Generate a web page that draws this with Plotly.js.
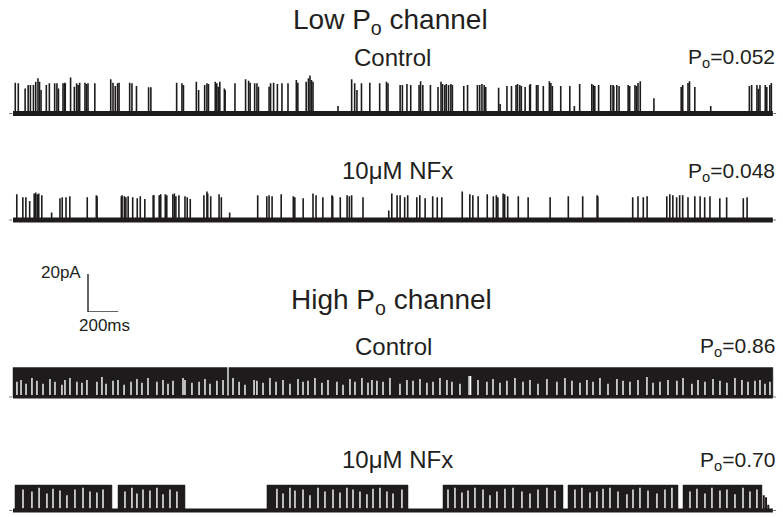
<!DOCTYPE html>
<html><head><meta charset="utf-8">
<script src="https://cdn.plot.ly/plotly-3.0.1.min.js"></script>
<style>html,body{margin:0;padding:0;background:#fff}#chart{width:783px;height:517px}</style>
</head><body><div id="chart"></div>
<script>
// ---------------- DATA (times in ms, currents in pA) ----------------
const traceDurationMs = 5015;

// Low Po channel, control: opening times and amplitudes
const lowCtrlOpenT = [15,35,80,100,115,135,150,165,175,185,220,240,275,290,300,330,340,345,380,405,420,430,440,475,485,495,540,645,660,675,690,700,770,785,815,895,910,1080,1115,1125,1210,1225,1265,1280,1290,1335,1345,1355,1365,1395,1400,1465,1535,1555,1565,1595,1610,1620,1690,1700,1720,1745,1775,1815,1870,1880,1935,1950,1960,1970,1980,2145,2235,2255,2270,2300,2355,2420,2465,2475,
2555,2570,2600,2625,2680,2690,2705,2755,2805,2825,2835,2850,2860,2875,2890,2900,2975,3000,3065,3080,3095,3110,3120,3205,3215,3260,3290,3320,3330,3345,3355,3380,3410,3415,3455,3465,3500,3540,3550,3560,3615,3675,3705,3740,3820,3830,3840,3865,3945,3960,3965,3985,4000,4060,4070,4105,4115,4125,4140,4230,4410,4420,4455,4465,4500,4605,4860,4875,4910,4920,4930,4965,4975,4995,5005];
const lowCtrlOpenA = [16.2,15.9,13.2,15,15,15,16.7,18.5,16.7,12.4,15,15.9,15.9,15.9,13.2,15.9,16.2,15.9,19,14.1,15.9,15,16.2,16.2,15.5,15.9,15.9,18,16.2,14.5,15.9,16.2,16.2,15.9,14.5,13.8,13.8,16.2,15.9,15,16.7,12.4,15,15.9,15.5,16.7,15.9,14.1,16.7,13.2,12.4,15.9,18,17.3,16.2,15.9,15.9,14.1,14.1,15.9,16.2,15.5,15.9,15.9,17.6,16.2,16.7,18.5,20.3,17.6,16.7,4,18,15.9,12.4,15.9,16.2,15.9,16.7,15.9,
15,15,15.5,15,15,17,15,15,14,16.7,15.5,15,15.5,15,15.5,15,14.5,15,15,15,15.5,15,14,13.5,5,14.5,14.5,15,15.5,15,14.5,14,15,15.5,15,15,14.5,17,16,14.5,14.5,14.5,4,15.5,15.5,15,14.5,15,15,15,14.5,15,14.5,15,14.5,15,14.5,16,17,8,14,15,16,17,14,4,14.5,15,15,13,15,15,14,15,16];

// Low Po channel, 10 uM NFx
const lowNfxOpenT = [25,65,85,110,140,150,160,170,190,255,310,325,350,375,490,550,555,715,720,735,745,760,790,820,840,870,925,930,965,975,1005,1015,1055,1065,1075,1095,1135,1150,1170,1260,1280,1285,1305,1360,1375,1430,1615,1675,1690,1710,1770,1850,1860,1915,1980,2000,2045,2105,2110,2160,2205,2220,2235,2310,2480,2500,2535,2555,2585,2605,2665,2685,2720,2770,2800,2830,2965,3015,3035,3070,3130,3170,3190,3200,3235,3245,3265,3335,3400,3545,3665,3760,3855,3860,4090,4125,4160,4185,4315,4335,4355,4380,4400,4420,4455,4500,4535,4565,4600,4665,4710,4820,4845];
const lowNfxOpenA = [13.5,12,12,10,14,14.5,13.5,14,13,4,11.5,12,12,12.5,12,13,12.5,12.5,13,12.5,12,12.5,12,11.5,12.5,11,13,13,13,13.5,13.5,13,13.5,14,12.5,13,12.5,12,11,13,15,14,12.5,13.5,12,4,13,12.5,13,12.5,13.5,12.5,12,11.5,14,13,12,13,12.5,12,13,12.5,13,12,5,14,13,13,12,13,12,13,11.5,12.5,12,12,15,13.5,13,12.5,13.5,12.5,13,12,14,13.5,12.5,12.5,12,12,12.5,12.5,13,12.5,12,12.5,12,12.5,12.5,13.5,13,12,13,13,12,12.5,12.5,12,12.5,11.5,12,11.5,12];

// High Po channel, control: flicker bursts, open level, visible dwells (time, height reached)
const highCtrlBursts = [[0, 5015]];
const highCtrlOpenLevel = 15.5;
const highCtrlDwellT = [26,53,86,125,158,198,244,277,323,343,
376,422,455,488,554,587,614,660,693,733,
779,818,851,891,950,990,1023,1056,1122,1135,
1181,1228,1267,1300,1346,1386,1452,1492,1531,1591,
1610,1650,1696,1736,1782,1828,1881,1914,1947,1993,
2039,2079,2138,2178,2224,2257,2303,2343,2369,2402,
2442,2488,2554,2600,2640,2686,2732,2772,2818,2864,
2897,2950,3010,3020,3069,3128,3168,3214,3260,3313,
3366,3412,3465,3524,3590,3643,3689,3742,3788,3828,
3874,3927,3986,4026,4072,4125,4184,4224,4270,4323,
4382,4422,4481,4521,4567,4620,4666,4712,4765,4811,
4851,4897,4930,4963,4996];
const highCtrlDwellH = [8,9,7,10,8.5,7,9.5,8,6.5,9,
10,8,7.5,9,8,10.5,7,8.5,9,6.5,
8,9.5,7.5,10,8,9,7,8.5,10,9,
7.5,8,9.5,7,8.5,9,10,8,6.5,9,
8.5,7.5,10,8,9,7,9.5,8,8.5,10,
7.5,9,8,6.5,9.5,8,10,7.5,9,8.5,
8,10,7,9,8.5,9.5,7.5,8,10,9,
8,7,11,11,9,8,9.5,7.5,8.5,10,
8,9,7,9.5,8,10,8.5,7.5,9,8,
10,7,9.5,8.5,8,9,10.5,7.5,8,9,
8.5,10,7,9,8,9.5,8.5,7.5,10,9,
8,8.5,9,7,8];
const highCtrlBreakT = [1419];

// High Po channel, 10 uM NFx
const highNfxBursts = [[13,653],[693,1135],[1676,2607],[2838,3630],[3663,4389],[4422,4943]];
const highNfxOpenLevel = 13.4;
const highNfxDwellT = [66,125,172,224,264,310,356,409,462,508,
554,594,739,785,818,858,904,950,990,1036,
1082,1742,1782,1828,1861,1914,1960,2013,2059,2112,
2158,2204,2244,2290,2336,2376,2422,2468,2508,2567,
2871,2917,2963,3003,3049,3102,3148,3194,3247,3300,
3359,3412,3465,3524,3577,3709,3755,3808,3854,3894,
3940,3993,4052,4092,4138,4191,4250,4303,4349,4468,
4514,4567,4613,4666,4712,4765,4818,4864,4910];
const highNfxDwellH = [11,10,12,9,11.5,10.5,8,11,12,10,
9.5,11,10,12,9,11,10.5,12,8.5,11,
10,11.5,9,12,10.5,11,8,12,10,11,
9.5,12,11,10,8.5,11.5,12,10,9,11,
11,12,9.5,10.5,12,11,8,10,11.5,12,
10,9,11,12,10.5,11,12,9.5,10,11.5,
12,10,8.5,11,12,10.5,9,11,12,10,
11.5,9,12,10.5,11,8.5,12,10,11];
const highNfxTailT = [4955,4970,4985];
const highNfxTailA = [8,7,3];

// Scale bar
const scaleBarMs = 200;
const scaleBarPA = 20;

// Labels
const groupTitles = ["Low P<sub>o</sub> channel", "High P<sub>o</sub> channel"];
const conditionLabels = ["Control", "10\u03bcM NFx", "Control", "10\u03bcM NFx"];
const poValues = ["0.052", "0.048", "0.86", "0.70"];

// ---------------- LAYOUT GEOMETRY ----------------
const W = 783, H = 517;
const X0_PX = 13, MS_PER_PX = 6.6, PX_PER_PA = 1.9;
const Y_MIN = -2, Y_MAX = 20;
const baselinePx = [113.5, 220, 397, 510.5];
const ink = '#1e1b1c';

function yDomain(yb) {
  const bottom = yb - Y_MIN * PX_PER_PA;
  const top = yb - Y_MAX * PX_PER_PA;
  return [1 - bottom / H, 1 - top / H];
}

const traces = [];
function seg(xs, ys, yaxis, color, width, extra) {
  traces.push(Object.assign({type: 'scatter', mode: 'lines', x: xs, y: ys, xaxis: 'x', yaxis: yaxis,
    line: {color: color, width: width}, hoverinfo: 'skip', showlegend: false, connectgaps: false}, extra || {}));
}
function spikes(ts, as, lo) {
  const x = [], y = [];
  ts.forEach((t, i) => { x.push(t, t, null); y.push(lo || 0, as[i], null); });
  return [x, y];
}
function bursts(list, level) {
  const x = [], y = [];
  list.forEach(([a, b]) => { x.push(a, a, b, b, a, null); y.push(0, level, level, 0, 0, null); });
  return [x, y];
}
function dots(yaxis) {
  const st = {line: {color: '#777', width: 1, dash: 'dot'}};
  seg([-25, -2], [0, 0], yaxis, '#777', 1, st);
  seg([traceDurationMs + 2, traceDurationMs + 35], [0, 0], yaxis, '#777', 1, st);
}

// Trace 1: low Po control
dots('y');
seg([0, traceDurationMs], [0, 0], 'y', ink, 5);
let s = spikes(lowCtrlOpenT, lowCtrlOpenA); seg(s[0], s[1], 'y', ink, 1.6);

// Trace 2: low Po NFx
dots('y2');
seg([0, traceDurationMs], [0, 0], 'y2', ink, 5);
s = spikes(lowNfxOpenT, lowNfxOpenA); seg(s[0], s[1], 'y2', ink, 1.6);

// Trace 3: high Po control
dots('y3');
let b = bursts(highCtrlBursts, highCtrlOpenLevel);
seg(b[0], b[1], 'y3', ink, 0.5, {fill: 'toself', fillcolor: ink});
let v = spikes(highCtrlDwellT, highCtrlDwellH, 1.0); seg(v[0], v[1], 'y3', '#ffffff', 1.4);
v = spikes(highCtrlBreakT, [highCtrlOpenLevel + 0.5], 0.5); seg(v[0], v[1], 'y3', '#ffffff', 1.3);
seg([0, traceDurationMs], [0, 0], 'y3', ink, 3);

// Trace 4: high Po NFx
dots('y4');
b = bursts(highNfxBursts, highNfxOpenLevel);
seg(b[0], b[1], 'y4', ink, 0.5, {fill: 'toself', fillcolor: ink});
v = spikes(highNfxDwellT, highNfxDwellH, 1.2); seg(v[0], v[1], 'y4', '#ffffff', 1.4);
seg([0, traceDurationMs], [0, 0], 'y4', ink, 4);
s = spikes(highNfxTailT, highNfxTailA); seg(s[0], s[1], 'y4', ink, 2);

// Scale bar
const sbX0 = (88 - X0_PX) * MS_PER_PX;
seg([sbX0, sbX0, sbX0 + scaleBarMs], [scaleBarPA, 0, 0], 'y5', '#333', 1.5);

// ---------------- ANNOTATIONS ----------------
const font = 'Liberation Sans, Arial, Helvetica, sans-serif';
const txt = '#231f20';
function ann(text, px, py, size, xanchor) {
  return {text: text, xref: 'paper', yref: 'paper', x: px / W, y: 1 - py / H, xanchor: xanchor || 'center',
    yanchor: 'middle', showarrow: false, font: {family: font, size: size, color: txt}};
}
const annotations = [
  ann(groupTitles[0], 390, 21, 28),
  ann(conditionLabels[0], 392, 57, 24),
  ann('P<sub>o</sub>=' + poValues[0], 777, 58, 21, 'right'),
  ann(conditionLabels[1], 397, 170, 24),
  ann('P<sub>o</sub>=' + poValues[1], 777, 172, 21, 'right'),
  ann('20pA', 83, 272, 17, 'right'),
  ann('200ms', 104, 325, 17),
  ann(groupTitles[1], 391, 301, 28),
  ann(conditionLabels[2], 393, 346, 24),
  ann('P<sub>o</sub>=' + poValues[2], 777, 347, 21, 'right'),
  ann(conditionLabels[3], 397, 459, 24),
  ann('P<sub>o</sub>=' + poValues[3], 777, 461, 21, 'right')
];

const hidden = {visible: false, fixedrange: true};
const layout = {
  width: W, height: H, margin: {l: 0, r: 0, t: 0, b: 0},
  paper_bgcolor: '#fff', plot_bgcolor: 'rgba(0,0,0,0)', showlegend: false,
  xaxis: Object.assign({range: [-X0_PX * MS_PER_PX, (W - X0_PX) * MS_PER_PX], domain: [0, 1]}, hidden),
  yaxis: Object.assign({range: [Y_MIN, Y_MAX], domain: yDomain(baselinePx[0]), anchor: 'x'}, hidden),
  yaxis2: Object.assign({range: [Y_MIN, Y_MAX], domain: yDomain(baselinePx[1]), anchor: 'x'}, hidden),
  yaxis3: Object.assign({range: [Y_MIN, Y_MAX], domain: yDomain(baselinePx[2]), anchor: 'x'}, hidden),
  yaxis4: Object.assign({range: [Y_MIN, Y_MAX], domain: yDomain(baselinePx[3]), anchor: 'x'}, hidden),
  yaxis5: Object.assign({range: [0, scaleBarPA], domain: [1 - 312 / H, 1 - 274 / H], anchor: 'x'}, hidden),
  annotations: annotations
};
Plotly.newPlot('chart', traces, layout, {displayModeBar: false});
</script></body></html>
